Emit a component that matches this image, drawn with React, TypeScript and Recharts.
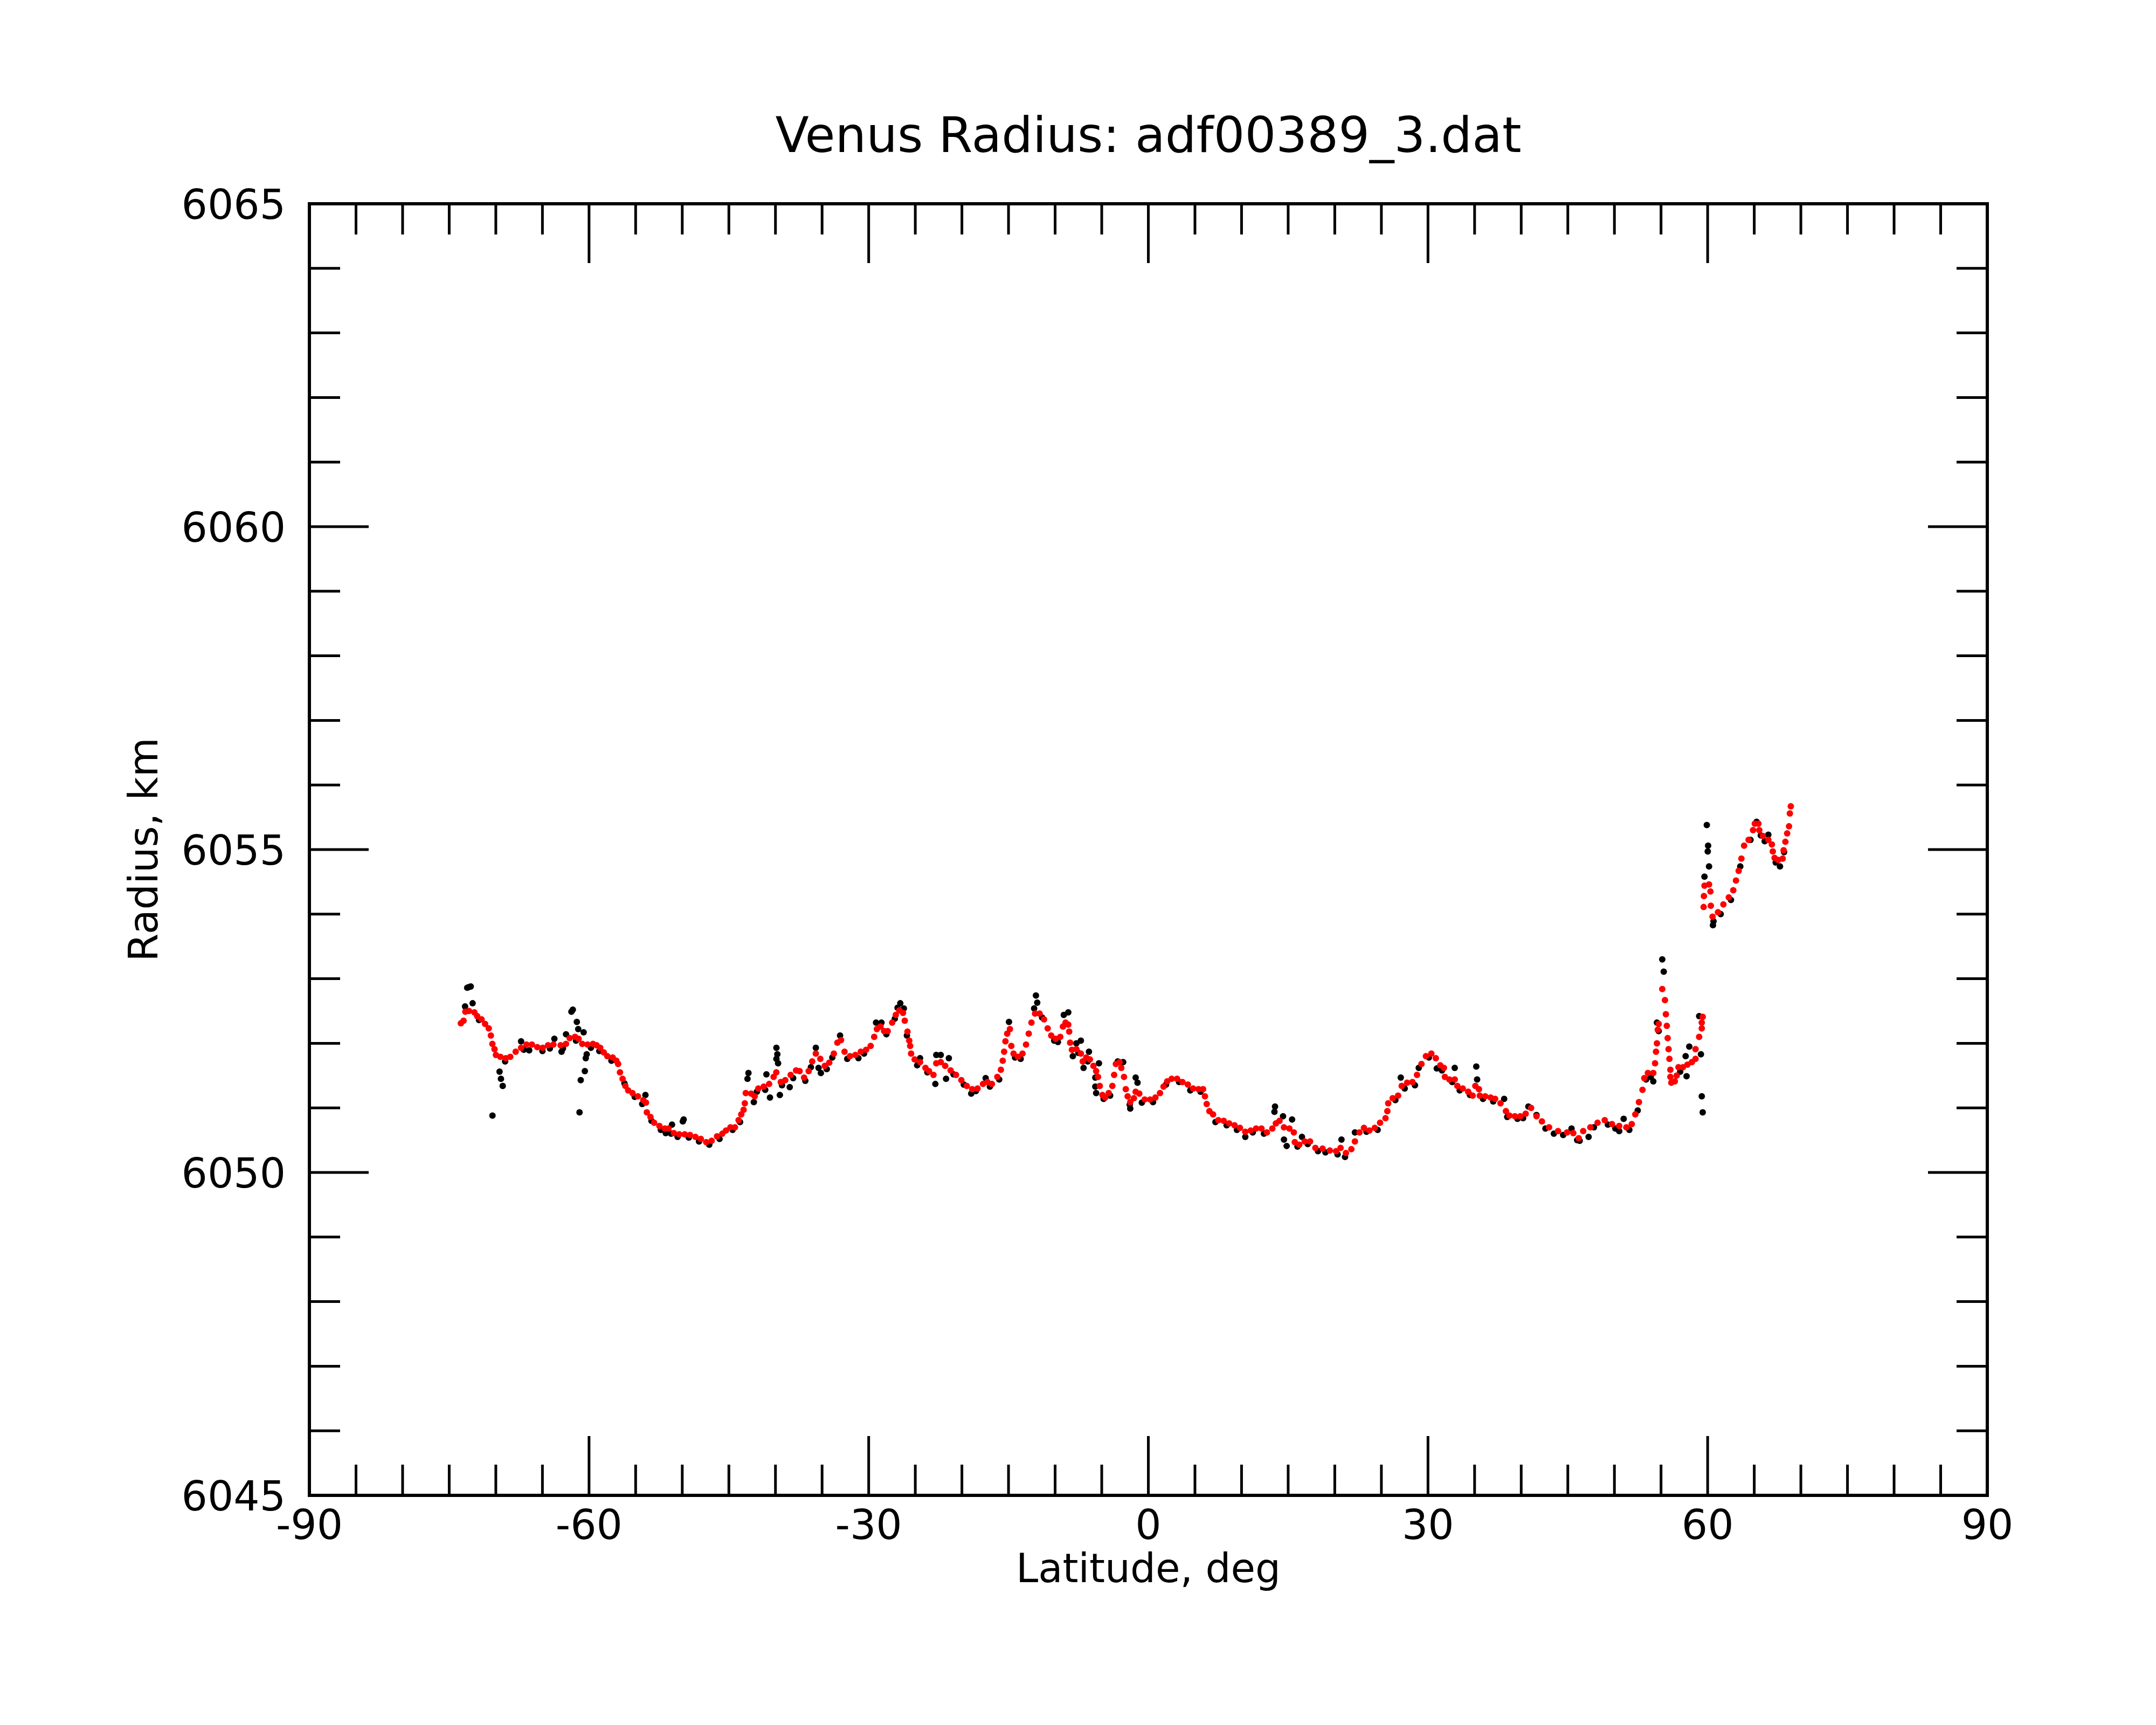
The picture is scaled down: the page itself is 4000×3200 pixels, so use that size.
import React from "react";
import {
  ScatterChart,
  Scatter,
  XAxis,
  YAxis,
  ReferenceArea,
} from "recharts";

// Smoothed radius profile (red dots).
const redLat = [
  -73.75, -73.46, -73.27, -72.88, -72.3, -72.0, -71.53, -71.15, -70.76, -70.53,
  -70.37, -70.14, -69.99, -69.51, -68.93, -68.45, -67.87, -67.29, -66.71, -66.13,
  -65.55, -64.97, -64.4, -63.82, -63.05, -62.47, -62.08, -61.5, -61.12, -60.73,
  -60.16, -59.58, -59.19, -58.8, -58.42, -58.04, -57.46, -57.07, -56.88, -56.68,
  -56.4, -56.1, -55.8, -55.34, -54.76, -54.18, -53.89, -53.8, -53.41, -53.02,
  -52.45, -51.87, -51.48, -50.9, -50.32, -49.74, -49.17, -48.59, -48.01, -47.43,
  -46.85, -46.27, -45.7, -45.31, -44.83, -44.35, -43.96, -43.67, -43.42, -43.29,
  -43.19, -42.61, -42.23, -41.84, -41.26, -40.68, -40.2, -39.91, -39.43, -38.95,
  -38.37, -37.79, -37.41, -36.93, -36.44, -36.06, -35.67, -35.19, -34.71, -34.23,
  -33.74, -33.36, -32.97, -32.59, -32.01, -31.43, -30.85, -30.28, -29.79, -29.41,
  -29.12, -28.73, -28.35, -27.96, -27.48, -27.09, -26.71, -26.32, -26.13, -25.84,
  -25.65, -25.55, -25.45, -25.07, -24.49, -23.91, -23.53, -23.05, -22.75, -22.27,
  -21.79, -21.21, -20.63, -20.06, -19.48, -18.9, -18.32, -17.74, -17.26, -16.78,
  -16.2, -15.82, -15.62, -15.47, -15.33, -15.14, -14.85, -14.7, -14.46, -13.98,
  -13.5, -13.12, -12.83, -12.54, -12.15, -11.67, -11.19, -10.8, -10.42, -9.94,
  -9.45, -9.16, -8.88, -8.59, -8.49, -8.39, -8.2, -7.72, -7.24, -7.04,
  -6.66, -6.27, -5.89, -5.6, -5.4, -5.21, -4.92, -4.63, -4.25, -3.86,
  -3.67, -3.48, -3.09, -2.9, -2.61, -2.42, -2.22, -1.94, -1.55, -1.36,
  -0.97, -0.39, 0.19, 0.76, 1.25, 1.63, 2.02, 2.5, 3.08, 3.66,
  4.24, 4.81, 5.39, 5.87, 6.07, 6.26, 6.55, 6.94, 7.51, 8.09,
  8.67, 9.25, 9.83, 10.4, 10.98, 11.56, 12.14, 12.72, 13.3, 13.68,
  14.07, 14.55, 15.13, 15.61, 15.71, 16.19, 16.77, 17.35, 17.92, 18.69,
  19.47, 20.14, 20.62, 21.2, 21.78, 22.16, 22.65, 23.13, 23.71, 24.29,
  24.86, 25.44, 25.64, 25.73, 26.21, 26.79, 27.18, 27.76, 28.33, 28.82,
  29.3, 29.78, 30.36, 30.84, 31.32, 31.71, 31.81, 32.29, 32.87, 33.15,
  33.73, 34.31, 34.79, 35.08, 35.47, 35.56, 36.14, 36.72, 37.2, 37.78,
  38.36, 38.74, 39.32, 39.9, 40.48, 41.06, 41.64, 42.22, 42.99, 43.95,
  44.92, 45.59, 46.17, 46.65, 47.42, 48.19, 48.96, 49.74, 50.51, 51.28,
  51.86, 52.24, 52.63, 53.01, 53.2, 53.59, 54.17, 54.36, 54.46, 54.56,
  54.65, 54.75, 55.13, 55.42, 55.52, 55.62, 55.71, 55.81, 55.9, 56.0,
  56.0, 56.1, 56.48, 56.68, 56.87, 57.35, 57.83, 58.31, 58.7, 58.7,
  59.09, 59.37, 59.37, 59.47, 59.57, 59.6, 59.66, 60.15, 60.3, 60.34,
  60.53, 61.11, 61.69, 62.27, 62.75, 63.04, 63.33, 63.62, 63.91, 64.39,
  64.87, 65.06, 65.45, 65.54, 65.93, 66.51, 66.89, 66.99, 67.18, 67.57,
  68.05, 68.15, 68.34, 68.53, 68.73, 68.82, 68.92,
];

const redRadius = [
  6052.31, 6052.35, 6052.49, 6052.5, 6052.48, 6052.42, 6052.37, 6052.3, 6052.23, 6052.12,
  6051.99, 6051.91, 6051.82, 6051.79, 6051.77, 6051.79, 6051.87, 6051.93, 6051.98, 6051.98,
  6051.94, 6051.93, 6051.97, 6051.98, 6051.97, 6051.99, 6052.08, 6052.1, 6052.07, 6051.99,
  6051.98, 6051.99, 6051.97, 6051.93, 6051.86, 6051.8, 6051.78, 6051.73, 6051.68, 6051.55,
  6051.45, 6051.34, 6051.27, 6051.23, 6051.18, 6051.12, 6051.08, 6050.93, 6050.86, 6050.77,
  6050.72, 6050.68, 6050.68, 6050.61, 6050.59, 6050.59, 6050.58, 6050.55, 6050.52, 6050.47,
  6050.49, 6050.56, 6050.6, 6050.65, 6050.7, 6050.7, 6050.81, 6050.9, 6050.97, 6051.07,
  6051.23, 6051.22, 6051.18, 6051.3, 6051.33, 6051.37, 6051.48, 6051.55, 6051.4, 6051.43,
  6051.51, 6051.58, 6051.57, 6051.47, 6051.57, 6051.72, 6051.84, 6051.76, 6051.65, 6051.7,
  6051.84, 6052.01, 6052.05, 6051.87, 6051.8, 6051.82, 6051.87, 6051.9, 6051.96, 6052.1,
  6052.22, 6052.26, 6052.19, 6052.19, 6052.32, 6052.44, 6052.51, 6052.47, 6052.35, 6052.18,
  6052.04, 6051.96, 6051.84, 6051.75, 6051.71, 6051.62, 6051.57, 6051.51, 6051.69, 6051.71,
  6051.65, 6051.58, 6051.51, 6051.43, 6051.34, 6051.29, 6051.3, 6051.37, 6051.4, 6051.37,
  6051.48, 6051.59, 6051.73, 6051.87, 6052.03, 6052.15, 6052.22, 6051.96, 6051.84, 6051.79,
  6051.84, 6051.98, 6052.15, 6052.32, 6052.46, 6052.46, 6052.37, 6052.23, 6052.12, 6052.07,
  6052.1, 6052.26, 6052.32, 6052.29, 6052.18, 6052.01, 6051.9, 6051.91, 6051.84, 6051.72,
  6051.78, 6051.75, 6051.65, 6051.57, 6051.48, 6051.34, 6051.2, 6051.16, 6051.23, 6051.34,
  6051.51, 6051.68, 6051.71, 6051.62, 6051.48, 6051.29, 6051.18, 6051.09, 6051.15, 6051.25,
  6051.22, 6051.13, 6051.13, 6051.16, 6051.23, 6051.33, 6051.41, 6051.45, 6051.45, 6051.4,
  6051.36, 6051.3, 6051.29, 6051.29, 6051.18, 6051.06, 6050.95, 6050.9, 6050.81, 6050.8,
  6050.76, 6050.73, 6050.69, 6050.63, 6050.65, 6050.68, 6050.68, 6050.62, 6050.68, 6050.76,
  6050.8, 6050.7, 6050.68, 6050.62, 6050.47, 6050.43, 6050.48, 6050.48, 6050.38, 6050.37,
  6050.34, 6050.33, 6050.38, 6050.3, 6050.36, 6050.48, 6050.62, 6050.69, 6050.65, 6050.69,
  6050.77, 6050.84, 6050.95, 6051.07, 6051.15, 6051.19, 6051.34, 6051.39, 6051.4, 6051.51,
  6051.68, 6051.8, 6051.84, 6051.77, 6051.66, 6051.62, 6051.48, 6051.44, 6051.44, 6051.34,
  6051.3, 6051.25, 6051.19, 6051.34, 6051.29, 6051.19, 6051.18, 6051.16, 6051.14, 6051.07,
  6050.95, 6050.88, 6050.87, 6050.87, 6050.91, 6051.0, 6050.87, 6050.79, 6050.7, 6050.64,
  6050.62, 6050.61, 6050.53, 6050.64, 6050.7, 6050.77, 6050.81, 6050.75, 6050.72, 6050.7,
  6050.75, 6050.9, 6051.09, 6051.28, 6051.46, 6051.54, 6051.54, 6051.69, 6051.87, 6052.0,
  6052.21, 6052.3, 6052.84, 6052.67, 6052.45, 6052.27, 6052.08, 6051.91, 6051.76, 6051.59,
  6051.48, 6051.39, 6051.41, 6051.5, 6051.63, 6051.63, 6051.67, 6051.71, 6051.76, 6051.91,
  6052.1, 6052.23, 6052.32, 6052.41, 6054.11, 6054.28, 6054.44, 6054.46, 6054.35, 6054.13,
  6053.96, 6054.03, 6054.15, 6054.26, 6054.37, 6054.52, 6054.67, 6054.86, 6055.06, 6055.15,
  6055.3, 6055.4, 6055.4, 6055.3, 6055.21, 6055.15, 6055.08, 6054.97, 6054.87, 6054.84,
  6054.86, 6054.99, 6055.12, 6055.25, 6055.36, 6055.56, 6055.67,
];

// Raw measurements (black dots): scattered points and the ones peeking out under the red profile.
const blackLat = [
  -73.3, -73.07, -72.9, -72.69, -72.49, -71.8, -70.36, -69.6, -69.45, -69.26,
  -69.0, -67.29, -67.0, -66.42, -65.0, -64.2, -63.72, -62.95, -62.8, -62.47,
  -61.89, -61.74, -61.4, -61.31, -61.16, -61.02, -60.89, -60.58, -60.45, -60.35,
  -60.25, -59.8, -58.9, -57.6, -56.2, -55.1, -54.3, -53.95, -53.3, -52.3,
  -51.77, -51.2, -51.1, -50.5, -49.94, -49.85, -49.3, -48.2, -47.1, -46.0,
  -44.6, -43.8, -43.0, -42.9, -42.32, -42.0, -41.1, -40.97, -40.59, -39.9,
  -39.9, -39.8, -39.72, -39.53, -39.3, -38.47, -38.1, -36.8, -36.2, -35.67,
  -35.38, -35.13, -34.5, -33.9, -33.07, -32.3, -31.1, -30.5, -29.21, -28.63,
  -28.1, -27.2, -26.9, -26.61, -26.23, -25.9, -24.8, -24.49, -23.7, -22.85,
  -22.75, -22.27, -21.7, -21.4, -20.9, -19.8, -19.0, -18.5, -17.45, -17.0,
  -16.0, -14.95, -14.3, -13.7, -12.25, -12.06, -11.92, -11.4, -10.1, -9.7,
  -9.07, -8.59, -8.1, -7.72, -7.5, -7.24, -6.95, -6.5, -6.37, -5.69,
  -5.69, -5.6, -5.3, -4.8, -4.1, -3.28, -2.7, -2.0, -1.94, -1.36,
  -1.16, -0.7, 0.5, 1.9, 3.3, 4.5, 5.6, 7.2, 8.4, 9.5,
  10.4, 11.2, 12.4, 13.53, 13.59, 14.45, 14.55, 14.84, 15.42, 16.0,
  16.48, 17.1, 18.2, 19.0, 20.3, 20.72, 21.1, 22.16, 23.4, 24.6,
  26.5, 27.08, 27.5, 28.6, 29.01, 30.1, 30.94, 31.5, 32.6, 32.87,
  33.4, 34.5, 35.18, 35.27, 35.9, 37.0, 38.17, 38.5, 39.6, 40.2,
  40.77, 41.64, 42.6, 43.5, 44.5, 45.4, 46.0, 46.27, 47.23, 47.8,
  49.3, 50.1, 50.51, 50.99, 51.6, 52.5, 53.4, 53.9, 54.17, 54.56,
  54.75, 55.13, 55.29, 57.06, 57.64, 57.74, 58.03, 59.09, 59.28, 59.37,
  59.47, 59.66, 59.91, 60.01, 60.05, 60.15, 60.57, 60.63, 61.4, 62.5,
  63.5, 64.6, 65.25, 65.7, 66.12, 66.51, 67.3, 67.76, 68.2,
];

const blackRadius = [
  6052.57, 6052.86, 6052.87, 6052.88, 6052.62, 6052.36, 6050.88, 6051.56, 6051.45, 6051.34,
  6051.72, 6052.03, 6051.9, 6051.89, 6051.88, 6051.92, 6052.07, 6051.87, 6051.92, 6052.14,
  6052.49, 6052.52, 6052.04, 6052.33, 6052.22, 6050.93, 6051.43, 6052.17, 6051.57, 6051.77,
  6051.83, 6051.93, 6051.88, 6051.73, 6051.38, 6051.17, 6051.06, 6051.2, 6050.8, 6050.66,
  6050.61, 6050.6, 6050.74, 6050.55, 6050.79, 6050.82, 6050.54, 6050.48, 6050.43, 6050.52,
  6050.66, 6050.78, 6051.45, 6051.54, 6051.09, 6051.25, 6051.28, 6051.52, 6051.16, 6051.93,
  6051.76, 6051.83, 6051.69, 6051.2, 6051.35, 6051.32, 6051.46, 6051.42, 6051.63, 6051.93,
  6051.62, 6051.54, 6051.6, 6051.78, 6052.12, 6051.76, 6051.77, 6051.84, 6052.32, 6052.32,
  6052.14, 6052.38, 6052.55, 6052.62, 6052.54, 6052.12, 6051.66, 6051.77, 6051.55, 6051.37,
  6051.82, 6051.82, 6051.45, 6051.77, 6051.52, 6051.36, 6051.22, 6051.26, 6051.46, 6051.33,
  6051.44, 6052.33, 6051.78, 6051.76, 6052.54, 6052.74, 6052.63, 6052.4, 6052.04, 6052.02,
  6052.44, 6052.48, 6051.8, 6052.0, 6051.85, 6052.04, 6051.62, 6051.72, 6051.87, 6051.47,
  6051.33, 6051.23, 6051.69, 6051.14, 6051.19, 6051.72, 6051.71, 6051.05, 6050.99, 6051.47,
  6051.39, 6051.08, 6051.09, 6051.36, 6051.4, 6051.27, 6051.25, 6050.78, 6050.73, 6050.66,
  6050.55, 6050.62, 6050.6, 6050.94, 6051.02, 6050.87, 6050.51, 6050.41, 6050.82, 6050.4,
  6050.55, 6050.44, 6050.33, 6050.31, 6050.28, 6050.51, 6050.24, 6050.62, 6050.63, 6050.66,
  6051.12, 6051.47, 6051.3, 6051.35, 6051.62, 6051.78, 6051.61, 6051.58, 6051.4, 6051.62,
  6051.27, 6051.2, 6051.64, 6051.44, 6051.14, 6051.1, 6051.14, 6050.86, 6050.83, 6050.84,
  6051.02, 6050.89, 6050.68, 6050.6, 6050.58, 6050.68, 6050.5, 6050.49, 6050.55, 6050.7,
  6050.74, 6050.68, 6050.64, 6050.83, 6050.66, 6050.96, 6051.44, 6051.48, 6051.41, 6052.32,
  6052.19, 6053.3, 6053.11, 6051.56, 6051.8, 6051.49, 6051.95, 6052.42, 6051.83, 6051.18,
  6050.93, 6054.58, 6055.38, 6054.97, 6055.06, 6054.74, 6053.83, 6053.89, 6054.0, 6054.22,
  6054.74, 6055.15, 6055.43, 6055.22, 6055.13, 6055.23, 6054.8, 6054.74, 6054.96,
];

const xTicks = [
  -90, -85, -80, -75, -70, -65, -60, -55, -50, -45, -40, -35, -30, -25, -20, -15, -10, -5,
  0, 5, 10, 15, 20, 25, 30, 35, 40, 45, 50, 55, 60, 65, 70, 75, 80, 85, 90,
];
const yTicks = [
  6045, 6046, 6047, 6048, 6049, 6050, 6051, 6052, 6053, 6054, 6055,
  6056, 6057, 6058, 6059, 6060, 6061, 6062, 6063, 6064, 6065,
];

const FONT = "'DejaVu Sans', sans-serif";
const W = 4000;
const H = 3200;
const LEFT = 574;
const RIGHT = 3687;
const TOP = 378;
const BOTTOM = 2774;
const MAJOR = 110;
const MINOR = 57;

const redData = redLat.map((lat, i) => ({ lat, radius: redRadius[i] }));
const blackData = blackLat.map((lat, i) => ({ lat, radius: blackRadius[i] }));

// Ticks point inward on all four sides; labels only on the major ones.
function XTick(props: any) {
  const { x, payload } = props;
  const major = payload.value % 30 === 0;
  const len = major ? MAJOR : MINOR;
  return (
    <g>
      <line x1={x} y1={BOTTOM} x2={x} y2={BOTTOM - len} stroke="#000" strokeWidth={5} />
      <line x1={x} y1={TOP} x2={x} y2={TOP + len} stroke="#000" strokeWidth={5} />
      {major && (
        <text x={x} y={BOTTOM + 81} textAnchor="middle" fontFamily={FONT} fontSize={76} fill="#000">
          {payload.value}
        </text>
      )}
    </g>
  );
}

function YTick(props: any) {
  const { y, payload } = props;
  const major = payload.value % 5 === 0;
  const len = major ? MAJOR : MINOR;
  return (
    <g>
      <line x1={LEFT} y1={y} x2={LEFT + len} y2={y} stroke="#000" strokeWidth={5} />
      <line x1={RIGHT} y1={y} x2={RIGHT - len} y2={y} stroke="#000" strokeWidth={5} />
      {major && (
        <text x={LEFT - 44} y={y + 28} textAnchor="end" fontFamily={FONT} fontSize={76} fill="#000">
          {payload.value}
        </text>
      )}
    </g>
  );
}

const blackDot = (p: any) => <circle cx={p.cx} cy={p.cy} r={6} fill="#000" />;
const redDot = (p: any) => <circle cx={p.cx} cy={p.cy} r={6} fill="#ff0000" />;

export default function App() {
  return (
    <div style={{ position: "absolute", left: 0, top: 0, width: W, height: H, background: "#fff" }}>
      <ScatterChart
        width={W}
        height={H}
        margin={{ top: TOP, right: W - RIGHT, bottom: 0, left: 0 }}
      >
        <XAxis
          type="number"
          dataKey="lat"
          domain={[-90, 90]}
          ticks={xTicks}
          allowDataOverflow
          height={H - BOTTOM}
          tickSize={0}
          tickMargin={0}
          tickLine={false}
          axisLine={false}
          tick={XTick}
          interval={0}
        />
        <YAxis
          type="number"
          dataKey="radius"
          domain={[6045, 6065]}
          ticks={yTicks}
          allowDataOverflow
          width={LEFT}
          tickSize={0}
          tickMargin={0}
          tickLine={false}
          axisLine={false}
          tick={YTick}
          interval={0}
        />
        <ReferenceArea
          x1={-90}
          x2={90}
          y1={6045}
          y2={6065}
          fill="none"
          fillOpacity={0}
          stroke="#000"
          strokeWidth={6}
        />
        <Scatter data={blackData} shape={blackDot} isAnimationActive={false} />
        <Scatter data={redData} shape={redDot} isAnimationActive={false} />
      </ScatterChart>
      <svg
        width={W}
        height={H}
        style={{ position: "absolute", left: 0, top: 0, pointerEvents: "none" }}
      >
        <text x={(LEFT + RIGHT) / 2} y={282} textAnchor="middle" fontFamily={FONT} fontSize={91} fill="#000">
          Venus Radius: adf00389_3.dat
        </text>
        <text x={(LEFT + RIGHT) / 2} y={2935} textAnchor="middle" fontFamily={FONT} fontSize={74} fill="#000">
          Latitude, deg
        </text>
        <text
          x={292}
          y={(TOP + BOTTOM) / 2}
          textAnchor="middle"
          fontFamily={FONT}
          fontSize={75}
          fill="#000"
          transform={`rotate(-90 292 ${(TOP + BOTTOM) / 2})`}
        >
          Radius, km
        </text>
      </svg>
    </div>
  );
}
